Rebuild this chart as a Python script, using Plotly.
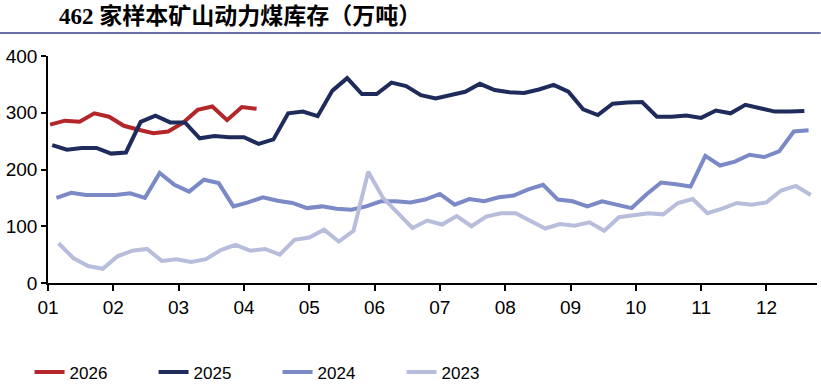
import pandas as pd
import plotly.graph_objects as go

# ---- data (weekly, 万吨) ----
months_ticktext = ["01", "02", "03", "04", "05", "06", "07", "08", "09", "10", "11", "12"]

start_2026 = "2026-01-02"
vals_2026 = [279, 286, 284, 299, 293, 277, 270, 264, 267, 282, 305, 311, 287, 310, 307]

start_2025 = "2025-01-03"
vals_2025 = [243, 235, 238, 238, 228, 230, 284, 295, 283, 283, 255, 259, 257, 257, 245, 253,
             299, 302, 294, 339, 361, 333, 333, 353, 347, 331, 325, 331, 337, 351, 340, 336,
             335, 341, 349, 337, 306, 296, 316, 318, 319, 293, 293, 295, 291, 304, 299, 314,
             308, 302, 302, 303]

start_2024 = "2024-01-05"
vals_2024 = [150, 159, 155, 155, 155, 158, 150, 194, 173, 161, 182, 176, 135, 142, 151, 145,
             141, 132, 135, 131, 129, 135, 144, 144, 142, 147, 157, 138, 148, 144, 151, 154,
             165, 173, 147, 144, 135, 144, 138, 132, 156, 177, 174, 170, 224, 207, 214, 226,
             222, 232, 267, 269]

start_2023 = "2023-01-06"
vals_2023 = [70, 44, 30, 25, 47, 57, 60, 39, 42, 37, 42, 58, 67, 57, 60, 50,
             76, 80, 94, 73, 92, 196, 150, 123, 97, 110, 103, 118, 100, 117, 123, 123,
             110, 96, 104, 101, 107, 92, 116, 119, 123, 121, 141, 148, 123, 131, 141, 138,
             142, 163, 171, 155]

series = [
    ("2026", start_2026, vals_2026, "#b3262a"),
    ("2025", start_2025, vals_2025, "#1f2b5b"),
    ("2024", start_2024, vals_2024, "#7b89c6"),
    ("2023", start_2023, vals_2023, "#b8bddc"),
]


def day_offsets(start, n):
    d = pd.date_range(start, periods=n, freq="7D")
    return [(x - pd.Timestamp(year=x.year, month=1, day=1)).days for x in d]


fig = go.Figure()
for name, start, vals, color in series:
    fig.add_trace(go.Scatter(
        x=day_offsets(start, len(vals)), y=vals, name=name, mode="lines",
        line=dict(color=color, width=4, shape="linear"),
        hoverinfo="skip",
    ))

tickvals = [31 * i for i in range(12)]

fig.update_layout(
    width=821, height=388,
    margin=dict(l=48, r=4, t=56, b=105, autoexpand=False),
    paper_bgcolor="white", plot_bgcolor="white",
    showlegend=True,
    legend=dict(
        orientation="h", xref="container", yref="container",
        x=0.036, y=0.040, xanchor="left", yanchor="middle",
        entrywidth=79, entrywidthmode="pixels",
        font=dict(family="Liberation Sans Narrow, Arial Narrow, Liberation Sans, Arial", size=17, color="#000"),
        itemwidth=30, tracegroupgap=0, bgcolor="rgba(0,0,0,0)",
    ),
    xaxis=dict(
        range=[0, 365], tickmode="array", tickvals=tickvals, ticktext=months_ticktext,
        showgrid=False, zeroline=False, showline=True, linecolor="#000", linewidth=1.5,
        ticks="outside", ticklen=6, tickwidth=1.5, tickcolor="#000", automargin=False,
        tickfont=dict(family="Liberation Sans, Arial", size=19, color="#000"),
    ),
    yaxis=dict(
        range=[0, 400], tickvals=[0, 100, 200, 300, 400],
        showgrid=False, zeroline=False, showline=True, linecolor="#000", linewidth=1.5,
        ticks="outside", ticklen=5, tickwidth=1.5, tickcolor="#000", automargin=False,
        tickfont=dict(family="Liberation Sans, Arial", size=19, color="#000"),
    ),
    annotations=[dict(
        text="<b>462 家样本矿山动力煤库存（万吨）</b>",
        xref="paper", yref="paper", x=(57 - 48.3) / 769, y=(283.3 - 16) / 227.3,
        xanchor="left", yanchor="middle", showarrow=False,
        font=dict(family="Liberation Serif, Noto Sans CJK SC", size=23, color="#000"),
    )],
    shapes=[dict(
        type="line", xref="paper", yref="paper",
        x0=-48.3 / 769, x1=(821 - 48.3) / 769,
        y0=(283.3 - 33) / 227.3, y1=(283.3 - 33) / 227.3,
        line=dict(color="#34428a", width=1.5),
    )],
)

fig.write_html("out.html", config={"displayModeBar": False},
               post_script="document.body.style.margin='0px';")
